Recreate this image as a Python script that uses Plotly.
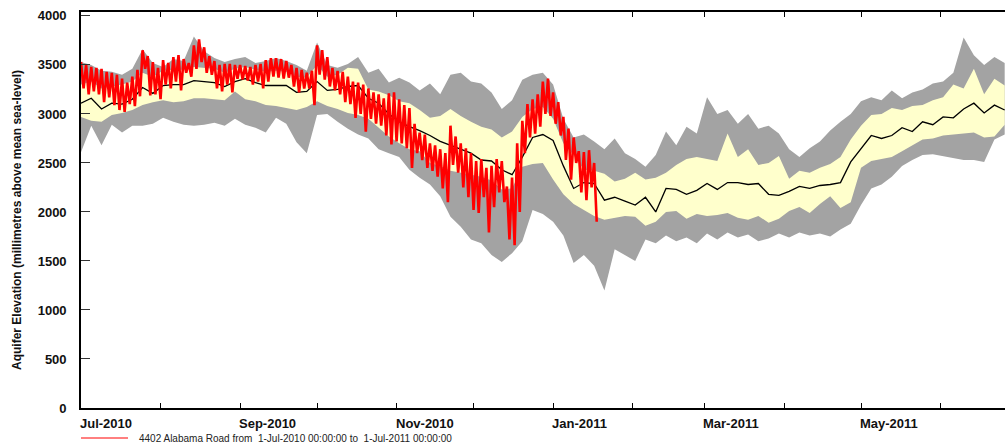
import numpy as np
import pandas as pd
import plotly.graph_objects as go

# ---------------- data ----------------
START = "2010-07-01"
BAND_STEP_DAYS = 4          # band series sampled every 4 days
RED_STEP_DAYS = 2           # observed series: peak/dip pairs every 2 days

# grey envelope (max / min)
band_upper = [3530,3500,3440,3430,3400,3460,3660,3520,3480,3560,
              3540,3790,3640,3570,3530,3560,3580,3520,3540,3570,
              3540,3500,3440,3730,3500,3470,3510,3580,3420,3460,
              3320,3370,3320,3240,3310,3200,3400,3420,3330,3310,
              3220,3050,3140,3350,3400,3420,3300,2950,2760,2790,
              2720,2640,2750,2600,2540,2460,2580,2820,2680,2870,
              2800,3170,3000,3040,2900,3000,2850,2880,2800,2640,
              2560,2650,2720,2830,2920,3000,3130,3170,3140,3240,
              3160,3220,3250,3310,3330,3420,3780,3600,3500,3580,
              3520]
band_lower = [2610,2880,2680,2890,2810,2880,2880,2900,2960,2920,
              2890,2880,2890,2910,2880,2950,2890,2860,2810,2960,
              2900,2710,2600,2990,3000,2920,2850,2790,2750,2640,
              2600,2560,2430,2350,2280,2160,1950,1850,1720,1680,
              1560,1490,1580,1700,2020,1980,1900,1760,1480,1560,
              1450,1200,1620,1560,1500,1720,1680,1760,1700,1740,
              1680,1780,1720,1790,1740,1770,1700,1730,1780,1740,
              1790,1760,1780,1750,1820,1880,2070,2240,2280,2360,
              2470,2530,2580,2590,2570,2550,2530,2530,2510,2740,
              2790]
# yellow inner band
inner_upper = [3300,3330,3260,3280,3300,3330,3420,3380,3440,3450,
               3450,3480,3470,3460,3420,3460,3480,3450,3430,3440,
               3430,3380,3370,3500,3380,3400,3470,3460,3250,3230,
               3190,3130,3110,3040,2960,2980,3050,2980,2920,2870,
               2840,2760,2820,2970,3050,3070,2950,2700,2580,2430,
               2420,2390,2310,2340,2400,2330,2350,2400,2480,2540,
               2560,2540,2520,2800,2560,2640,2480,2500,2570,2340,
               2420,2400,2450,2490,2560,2740,2880,2990,3000,3060,
               3040,3080,3090,3140,3170,3300,3260,3460,3200,3360,
               3290]
inner_lower = [2970,2930,2920,2990,3010,3040,3090,3120,3140,3120,
               3130,3160,3160,3150,3140,3230,3150,3130,3090,3080,
               3060,3040,3070,3130,3080,3050,3010,2990,2950,2860,
               2770,2700,2640,2620,2500,2470,2420,2400,2380,2360,
               2320,2230,2240,2460,2490,2500,2330,2180,2080,2020,
               1960,1920,1940,1960,1950,1860,1900,2000,2010,1930,
               1980,1960,1970,1990,1940,1920,1960,1890,1930,2010,
               2050,1990,2080,2160,2040,2100,2450,2520,2540,2560,
               2620,2680,2740,2750,2780,2790,2800,2810,2760,2770,
               2890]
# median (black line)
median = [3110,3160,3050,3110,3100,3150,3270,3210,3290,3300,
          3300,3340,3330,3320,3280,3330,3360,3320,3290,3290,
          3290,3220,3230,3330,3240,3250,3280,3290,3160,3110,
          3000,2920,2870,2830,2780,2720,2680,2640,2600,2530,
          2520,2430,2380,2560,2760,2790,2730,2470,2240,2300,
          2290,2120,2150,2110,2070,2150,2000,2240,2230,2180,
          2220,2290,2230,2300,2300,2280,2290,2180,2170,2210,
          2260,2240,2270,2280,2300,2510,2650,2780,2750,2780,
          2860,2820,2920,2890,2970,2960,3050,3110,3010,3090,
          3040]
# observed record (red): peak and dip values per 2-day step
obs_top = [3530,3500,3480,3470,3460,3430,3420,3400,3360,3320,
           3380,3450,3650,3590,3530,3470,3550,3520,3580,3600,
           3560,3520,3700,3760,3680,3590,3540,3500,3510,3510,
           3500,3500,3490,3480,3500,3510,3550,3570,3570,3560,
           3540,3500,3470,3450,3420,3440,3700,3650,3580,3470,
           3440,3430,3380,3330,3320,3300,3260,3220,3200,3160,
           3210,3220,3150,3090,3060,2900,2810,2790,2700,2680,
           2640,2600,2880,2770,2700,2650,2600,2520,2540,2450,
           2470,2540,2520,2260,2350,2700,2930,3100,3150,3200,
           3330,3360,3220,3120,2970,2850,2760,2620,2610,2630,
           2500]
obs_bottom = [3260,3200,3230,3200,3120,3170,3090,3040,3020,3100,
              3080,3180,3460,3190,3200,3150,3300,3260,3330,3240,
              3420,3380,3460,3530,3420,3400,3260,3230,3300,3220,
              3360,3350,3340,3300,3330,3260,3330,3380,3370,3360,
              3370,3280,3220,3260,3260,3090,3400,3350,3280,3240,
              3200,3120,3100,2960,3000,2820,2950,2900,2880,2780,
              2690,2720,2700,2650,2450,2600,2530,2450,2420,2360,
              2240,2100,2480,2400,2250,2150,2020,1990,2150,1790,
              2050,2200,2100,1720,1660,2000,2600,2760,2800,2870,
              3000,2980,2900,2780,2530,2330,2500,2200,2120,2250,
              1900]

x_label_dates = ["2010-07-01", "2010-09-01", "2010-11-01",
                 "2011-01-01", "2011-03-01", "2011-05-01"]
x_label_texts = ["Jul-2010", "Sep-2010", "Nov-2010",
                 "Jan-2011", "Mar-2011", "May-2011"]
y_tick_vals = [0, 500, 1000, 1500, 2000, 2500, 3000, 3500, 4000]
legend_text = "4402 Alabama Road from \u00a01-Jul-2010 00:00:00 to \u00a01-Jul-2011 00:00:00"
y_title = "Aquifer Elevation (millimetres above mean sea-level)"

# ---------------- build ----------------
start = pd.Timestamp(START)
band_dates = start + pd.to_timedelta(np.arange(len(median)) * BAND_STEP_DAYS, unit="D")
obs_values = [v for pair in zip(obs_top, obs_bottom) for v in pair]
obs_dates = start + pd.to_timedelta(np.arange(len(obs_values)) * (RED_STEP_DAYS / 2), unit="D")

FONT = "Arial, 'Liberation Sans', sans-serif"
GREY = "#a3a3a3"
YELLOW = "#ffffcc"

fig = go.Figure()
fig.add_trace(go.Scatter(x=band_dates, y=band_lower, mode="lines",
                         line=dict(width=0, color=GREY), showlegend=False, hoverinfo="skip"))
fig.add_trace(go.Scatter(x=band_dates, y=band_upper, mode="lines", fill="tonexty",
                         fillcolor=GREY, line=dict(width=0, color=GREY),
                         showlegend=False, hoverinfo="skip"))
fig.add_trace(go.Scatter(x=band_dates, y=inner_lower, mode="lines",
                         line=dict(width=0, color=YELLOW), showlegend=False, hoverinfo="skip"))
fig.add_trace(go.Scatter(x=band_dates, y=inner_upper, mode="lines", fill="tonexty",
                         fillcolor=YELLOW, line=dict(width=0, color=YELLOW),
                         showlegend=False, hoverinfo="skip"))
fig.add_trace(go.Scatter(x=band_dates, y=median, mode="lines",
                         line=dict(width=1.3, color="black"), showlegend=False))
fig.add_trace(go.Scatter(x=obs_dates, y=obs_values, mode="lines",
                         line=dict(width=2.6, color="#ff0000"), showlegend=False))

L, T, PW, PH = 81, 12, 924, 396
W, H = 1005, 443

def py(pix):  # pixel row -> paper y
    return (T + PH - pix) / PH

def px(pix):  # pixel col -> paper x
    return (pix - L) / PW

annotations = []
for d, t in zip(x_label_dates, x_label_texts):
    annotations.append(dict(x=d, xref="x", y=py(423), yref="paper", text=t,
                            showarrow=False, xanchor="left", yanchor="middle", xshift=-3,
                            font=dict(family=FONT, size=13, color="#111", weight="bold")))
annotations.append(dict(x=px(17), xref="paper", y=py(220), yref="paper", text=y_title,
                        textangle=-90, showarrow=False, xanchor="center", yanchor="middle",
                        font=dict(family=FONT, size=12, color="#111", weight="bold")))
annotations.append(dict(x=px(137), xref="paper", y=py(438), yref="paper", text=legend_text,
                        showarrow=False, xanchor="left", yanchor="middle",
                        font=dict(family=FONT, size=10, color="#222")))

fig.update_layout(
    width=W, height=H,
    margin=dict(l=L, r=W - L - PW, t=T, b=H - T - PH, pad=0),
    paper_bgcolor="white", plot_bgcolor="white",
    showlegend=False,
    annotations=annotations,
    shapes=[dict(type="line", xref="paper", yref="paper",
                 x0=0, x1=px(128), y0=py(438), y1=py(438),
                 line=dict(color="#ff0000", width=1))],
)
fig.update_xaxes(
    type="date", range=["2010-07-01", "2011-06-26 03:00"],
    tick0="2010-07-01", dtick="M1", ticks="inside", ticklen=5, tickwidth=1.2,
    tickcolor="black", showticklabels=False, showgrid=False, zeroline=False,
    showline=True, linecolor="black", linewidth=1.6, mirror="ticks",
)
fig.update_yaxes(
    range=[0, 4040], tickvals=y_tick_vals, ticks="inside", ticklen=9, tickwidth=1.2,
    tickcolor="#333", showgrid=False, zeroline=False,
    showline=True, linecolor="black", linewidth=1.6, mirror=False,
    ticklabelstandoff=10,
    tickfont=dict(family=FONT, size=13, color="#111", weight="bold"),
)

fig.write_html("out.html", config={"displayModeBar": False},
               post_script="document.body.style.margin='0px';document.body.style.padding='0px';")
